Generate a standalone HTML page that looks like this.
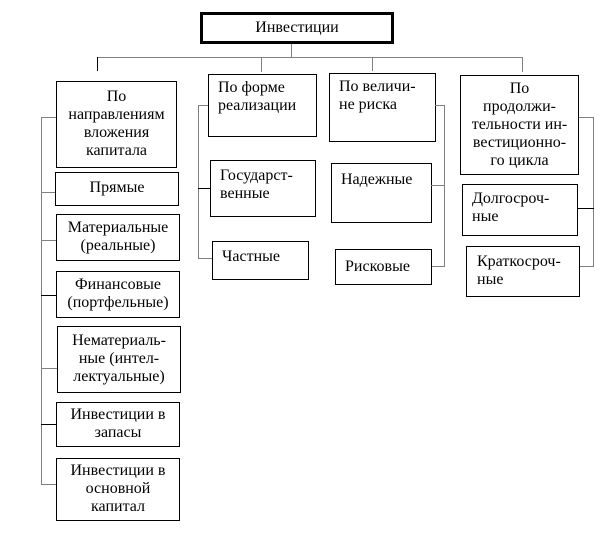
<!DOCTYPE html>
<html><head><meta charset="utf-8"><style>
body{margin:0;width:607px;height:542px;background:#fff;position:relative;overflow:hidden;font-family:"Liberation Serif",serif;font-size:16px;color:#000}
.b{position:absolute;border:1px solid #000;box-sizing:border-box;line-height:18px;white-space:nowrap}
.c{text-align:center}
.l{padding-left:9px;padding-top:4px}
.h,.v{position:absolute;background:#808080}
.h{height:1px}.v{width:1px}
</style></head><body>
<div class="b c" style="left:200px;top:12px;width:194px;height:32px;border:3px solid #000;line-height:26px">Инвестиции</div>
<div class="v" style="left:291px;top:44px;height:13px"></div>
<div class="h" style="left:97px;top:57px;width:426px"></div>
<div class="v" style="left:97px;top:57px;height:14px;background:#000"></div>
<div class="v" style="left:261px;top:57px;height:15px"></div>
<div class="v" style="left:372px;top:57px;height:14px"></div>
<div class="v" style="left:522px;top:57px;height:15px"></div>

<div class="b c" style="left:56px;top:81px;width:121px;height:87px;padding-top:6px">По<br>направлениям<br>вложения<br>капитала</div>
<div class="b c" style="left:55px;top:172px;width:124px;height:34px;padding-top:6px">Прямые</div>
<div class="b c" style="left:56px;top:214px;width:124px;height:47px;padding-top:4px">Материальные<br>(реальные)</div>
<div class="b c" style="left:56px;top:271px;width:124px;height:47px;padding-top:4px">Финансовые<br>(портфельные)</div>
<div class="b c" style="left:57px;top:326px;width:124px;height:67px;padding-top:5px">Нематериаль-<br>ные (интел-<br>лектуальные)</div>
<div class="b c" style="left:56px;top:402px;width:124px;height:45px;padding-top:3px">Инвестиции в<br>запасы</div>
<div class="b c" style="left:56px;top:458px;width:124px;height:63px;padding-top:3px">Инвестиции в<br>основной<br>капитал</div>
<div class="v" style="left:41px;top:117px;height:368px"></div>
<div class="h" style="left:41px;top:117px;width:15px"></div>
<div class="h" style="left:41px;top:192px;width:14px"></div>
<div class="h" style="left:41px;top:240px;width:15px"></div>
<div class="h" style="left:41px;top:295px;width:15px;background:#000"></div>
<div class="h" style="left:41px;top:368px;width:16px"></div>
<div class="h" style="left:41px;top:424px;width:15px;background:#000"></div>
<div class="h" style="left:41px;top:484px;width:15px"></div>

<div class="b l" style="left:208px;top:74px;width:109px;height:63px">По форме<br>реализации</div>
<div class="b l" style="left:210px;top:160px;width:106px;height:57px;padding-top:6px">Государст-<br>венные</div>
<div class="b l" style="left:212px;top:241px;width:97px;height:39px;padding-top:6px">Частные</div>
<div class="v" style="left:198px;top:105px;height:154px"></div>
<div class="h" style="left:198px;top:105px;width:10px"></div>
<div class="h" style="left:198px;top:188px;width:12px;background:#000"></div>
<div class="h" style="left:198px;top:258px;width:14px"></div>

<div class="b l" style="left:329px;top:73px;width:107px;height:69px">По величи-<br>не риска</div>
<div class="b l" style="left:331px;top:163px;width:101px;height:60px;padding-top:7px">Надежные</div>
<div class="b l" style="left:335px;top:249px;width:97px;height:36px;padding-top:8px">Рисковые</div>
<div class="v" style="left:444px;top:105px;height:162px"></div>
<div class="h" style="left:435px;top:105px;width:10px"></div>
<div class="h" style="left:431px;top:185px;width:14px"></div>
<div class="h" style="left:432px;top:266px;width:13px"></div>

<div class="b c" style="left:460px;top:75px;width:119px;height:100px;padding-top:4px">По<br>продолжи-<br>тельности ин-<br>вестиционно-<br>го цикла</div>
<div class="b l" style="left:462px;top:184px;width:116px;height:52px;padding-left:9px;padding-top:5px">Долгосроч-<br>ные</div>
<div class="b l" style="left:466px;top:246px;width:114px;height:51px;padding-left:10px;padding-top:6px">Краткосроч-<br>ные</div>
<div class="v" style="left:593px;top:117px;height:150px"></div>
<div class="h" style="left:579px;top:117px;width:15px"></div>
<div class="h" style="left:578px;top:208px;width:16px;background:#000"></div>
<div class="h" style="left:580px;top:266px;width:14px"></div>
</body></html>
